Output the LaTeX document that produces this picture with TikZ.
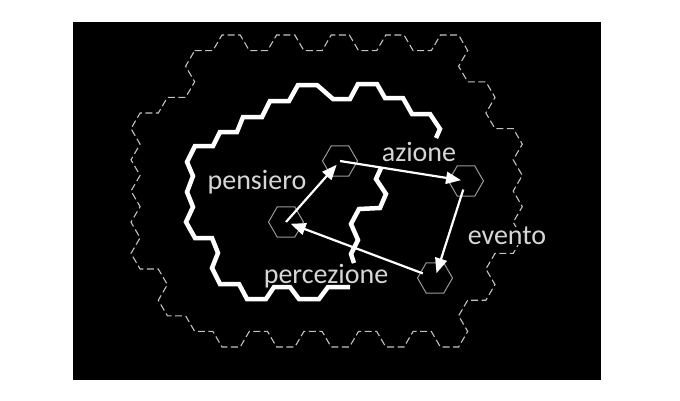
\documentclass[tikz,border=0pt]{standalone}
\usepackage{fontspec}
\setmainfont{Carlito}
\usepackage{tikz}
\usetikzlibrary{arrows.meta,positioning,shapes.geometric}
\definecolor{grigio}{rgb}{0.6,0.6,0.6}
\definecolor{chiaro}{rgb}{0.76,0.76,0.76}
\definecolor{testo}{rgb}{0.84,0.84,0.84}
\tikzset{
    cella/.style={
    regular polygon,regular polygon sides=6,draw=grigio,line width=1pt,minimum size=35pt,inner sep=0pt
    },
    bordo/.style={
    draw=white,line width=4.5pt
    },
    rete/.style={
    draw=chiaro,line width=1.1pt,dash pattern=on 7pt off 3.5pt
    },
  flow/.style={draw=white, line width=2.2pt, -{Triangle[length=15pt,width=12pt]}, shorten >=5pt},
  etich/.style={text=testo, font=\fontsize{28}{30}\selectfont, inner sep=0pt}
}

\begin{document}
\begin{tikzpicture}[x=1pt,y=-1pt]
    \useasboundingbox (0,0) rectangle (680,400);
    \fill[black] (73,22) rectangle (601,380);

    \begin{scope}[shift={(222,35)},x=9.1pt,y=-15.6pt]
      \draw[rete] (-3,1) -- (-1,1) -- (0,0) -- (2,0) -- (3,1) -- (5,1) -- (6,0) -- (8,0) -- (9,1) -- (11,1)
        -- (12,0) -- (14,0) -- (15,1) -- (17,1) -- (18,0) -- (20,0) -- (21,1) -- (23,1) -- (24,0) -- (26,0)
        -- (27,1) -- (26,2) -- (27,3) -- (29,3) -- (30,4) -- (29,5) -- (30,6) -- (32,6) -- (33,7) -- (32,8)
        -- (33,9) -- (32,10) -- (33,11) -- (32,12) -- (33,13) -- (32,14) -- (30,14) -- (29,15) -- (30,16)
        -- (29,17) -- (27,17) -- (26,18) -- (27,19) -- (26,20) -- (24,20)
        -- (23,19) -- (21,19) -- (20,20) -- (18,20) -- (17,19) -- (15,19) -- (14,20) -- (12,20) -- (11,19)
        -- (9,19) -- (8,20) -- (6,20) -- (5,19) -- (3,19) -- (2,20) -- (0,20) -- (-1,19) -- (-3,19)
        -- (-4,18) -- (-6,18) -- (-7,17) -- (-6,16) -- (-7,15) -- (-9,15) -- (-10,14) -- (-9,13) -- (-10,12)
        -- (-9,11) -- (-10,10) -- (-9,9) -- (-10,8) -- (-9,7) -- (-10,6) -- (-9,5) -- (-7,5) -- (-6,4)
        -- (-4,4) -- (-3,3) -- (-4,2) -- cycle;
    \end{scope}

    \draw[bordo] (350,287) -- (328,287) -- (319,299) -- (299,299) -- (290,287) -- (274,287) -- (266,299)
      -- (247,299) -- (239,284) -- (220,284) -- (212,268) -- (218,253) -- (212,238) -- (195,238)
      -- (186,222) -- (193,207) -- (187,192) -- (193,176) -- (187,162) -- (195,146) -- (213,146)
      -- (220,132) -- (237,132) -- (243,117) -- (262,117) -- (270,101) -- (289,101) -- (298,85)
      -- (317,85) -- (333,99) -- (350,99) -- (358,84) -- (377,84) -- (385,98) -- (403,98) -- (412,114)
      -- (430,114) -- (440,129) -- (436,138);
    \draw[bordo] (381,168) -- (376,179) -- (386,194) -- (380,208) -- (359,209) -- (351,224) -- (358,240)
      -- (351,254) -- (354,263);

    \node[cella] (pens) at (286,222) {};
    \node[cella] (azio) at (340,161) {};
    \node[cella] (even) at (466,181) {};
    \node[cella] (perc) at (435,278) {};

    \node[etich,above of=pens,node distance=40pt,xshift=-29pt] (tpens) {pensiero};
    \node[etich,right of=azio,node distance=79pt,yshift=9pt] (tazio) {azione};
    \node[etich,fill=black,below of=even,node distance=55pt,xshift=41pt] (teven) {evento};
    \node[etich,left of=perc,node distance=109pt,yshift=2pt] (tperc) {percezione};

    \path[flow] (pens.center) -- (azio.center);
    \path[flow] (azio.center) -- (even.center);
    \path[flow,shorten <=9pt] (even.center) -- (perc.center);
    \path[flow,shorten <=13pt] (perc.center) -- (pens.center);
\end{tikzpicture}
\end{document}
